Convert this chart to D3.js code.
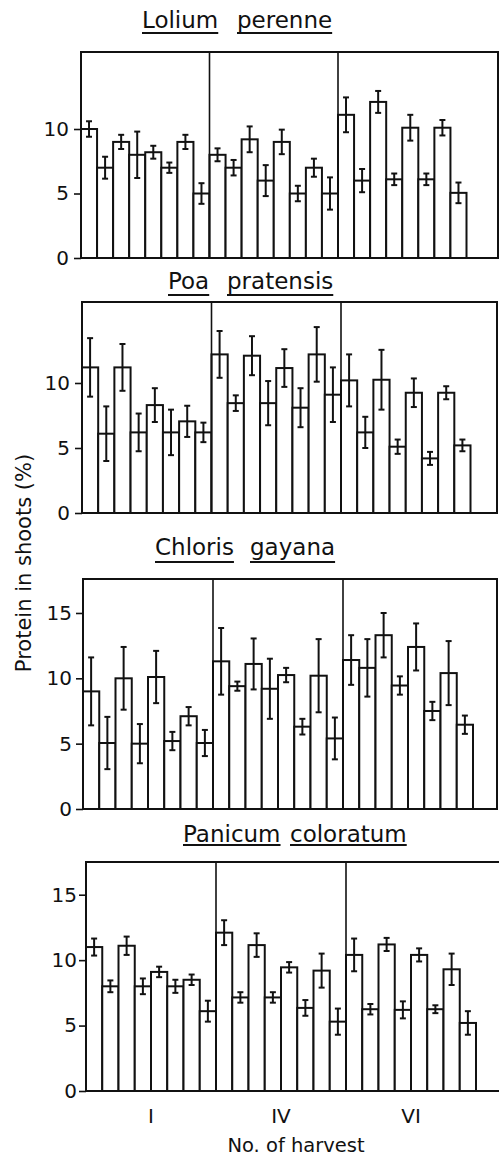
<!DOCTYPE html>
<html><head><meta charset="utf-8">
<script src="https://cdn.jsdelivr.net/npm/d3@7"></script>
<style>
html,body{margin:0;padding:0;background:#fff;}
svg{display:block;}
text{font-family:"DejaVu Sans",sans-serif;fill:#111;}
</style></head>
<body>
<svg id="chart" width="499" height="1157"></svg>
<script>
// ---- data ----
const harvests = ["I", "IV", "VI"];
const speciesNames = [["Lolium", "perenne"], ["Poa", "pratensis"], ["Chloris", "gayana"], ["Panicum", "coloratum"]];
const yTicksA = [0, 5, 10];
const yTicksB = [0, 5, 10, 15];
const yTitle = "Protein in shoots (%)";
const xTitle = "No. of harvest";

const loliumValues = [10.0, 7.0, 9.0, 8.0, 8.2, 7.0, 9.0, 5.0,  8.0, 7.0, 9.2, 6.0, 9.0, 5.0, 7.0, 5.0,  11.1, 6.0, 12.1, 6.1, 10.1, 6.1, 10.1, 5.05];
const loliumErrors = [0.6, 0.85, 0.55, 1.8, 0.5, 0.4, 0.55, 0.8,  0.5, 0.6, 1.0, 1.2, 0.95, 0.6, 0.7, 1.25,  1.35, 0.9, 0.85, 0.45, 1.0, 0.45, 0.6, 0.8];

const poaValues = [11.2, 6.1, 11.2, 6.2, 8.3, 6.2, 7.05, 6.2,  12.2, 8.45, 12.1, 8.45, 11.15, 8.1, 12.2, 9.1,  10.2, 6.2, 10.25, 5.1, 9.25, 4.2, 9.25, 5.2];
const poaErrors = [2.25, 2.1, 1.8, 1.45, 1.3, 1.75, 1.2, 0.75,  1.8, 0.6, 1.5, 1.7, 1.45, 1.5, 2.1, 2.1,  2.0, 1.2, 2.3, 0.55, 1.1, 0.5, 0.5, 0.45];

const chlorisValues = [9.0, 5.05, 10.0, 5.0, 10.1, 5.2, 7.1, 5.05,  11.3, 9.4, 11.1, 9.2, 10.25, 6.3, 10.2, 5.4,  11.4, 10.8, 13.3, 9.45, 12.4, 7.5, 10.4, 6.45];
const chlorisErrors = [2.6, 2.0, 2.4, 1.5, 2.0, 0.7, 0.7, 1.0,  2.55, 0.35, 1.95, 2.3, 0.55, 0.6, 2.8, 1.6,  1.9, 2.2, 1.7, 0.7, 1.8, 0.7, 2.45, 0.7];

const panicumValues = [11.0, 8.0, 11.1, 8.0, 9.1, 8.0, 8.5, 6.1,  12.1, 7.15, 11.15, 7.15, 9.45, 6.35, 9.2, 5.3,  10.4, 6.25, 11.2, 6.2, 10.4, 6.25, 9.3, 5.2];
const panicumErrors = [0.65, 0.45, 0.7, 0.6, 0.4, 0.5, 0.4, 0.8,  0.95, 0.4, 0.9, 0.4, 0.4, 0.6, 1.3, 1.0,  1.25, 0.4, 0.5, 0.65, 0.5, 0.3, 1.2, 0.9];

const seriesValues = [loliumValues, poaValues, chlorisValues, panicumValues];
const seriesErrors = [loliumErrors, poaErrors, chlorisErrors, panicumErrors];
const panelTicks = [yTicksA, yTicksA, yTicksB, yTicksB];

// ---- layout (pixel geometry, not data) ----
const layout = [
  {top: 52,  bottom: 258,  left: 81, div2: 338, right: 498, yMax: 15.97, titleY: 28,  ulY: 33,  wordX: [142, 237], tickDx: 12},
  {top: 302, bottom: 513,  left: 82, div2: 341, right: 497, yMax: 16.23, titleY: 289, ulY: 295, wordX: [168, 227], tickDx: 12},
  {top: 579, bottom: 809,  left: 83, div2: 343, right: 497, yMax: 17.6,  titleY: 555, ulY: 562, wordX: [155, 250], tickDx: 11},
  {top: 862, bottom: 1091, left: 86, div2: 346, right: 520, yMax: 17.5,  titleY: 842, ulY: 845, wordX: [183, 290], tickDx: 9}
];
const barsPerGroup = 8;
const ink = "#111";

const svg = d3.select("#chart");

layout.forEach((L, p) => {
  const g = svg.append("g");
  const x = d3.scaleLinear().domain([0, 2 * barsPerGroup]).range([L.left, L.div2]);
  const y = d3.scaleLinear().domain([0, L.yMax]).range([L.bottom, L.top]);
  const vals = seriesValues[p], errs = seriesErrors[p];

  // title words with underlines
  speciesNames[p].forEach((w, i) => {
    const t = g.append("text").attr("x", L.wordX[i]).attr("y", L.titleY)
      .attr("font-size", 23).text(w);
    const len = t.node().getComputedTextLength();
    g.append("line").attr("x1", L.wordX[i]).attr("x2", L.wordX[i] + len)
      .attr("y1", L.ulY).attr("y2", L.ulY).attr("stroke", ink).attr("stroke-width", 2);
  });

  // bars
  g.selectAll("rect.bar").data(vals).join("rect").attr("class", "bar")
    .attr("x", (d, i) => x(i)).attr("width", (d, i) => x(i + 1) - x(i))
    .attr("y", d => y(d)).attr("height", d => y(0) - y(d))
    .attr("fill", "#fff").attr("stroke", ink).attr("stroke-width", 2);

  // error bars
  const eb = g.selectAll("g.err").data(vals.map((v, i) => ({v, e: errs[i], i}))).join("g").attr("class", "err");
  eb.append("line").attr("x1", d => (x(d.i) + x(d.i + 1)) / 2).attr("x2", d => (x(d.i) + x(d.i + 1)) / 2)
    .attr("y1", d => y(d.v + d.e)).attr("y2", d => y(d.v - d.e)).attr("stroke", ink).attr("stroke-width", 2);
  [1, -1].forEach(s => {
    eb.append("line").attr("x1", d => (x(d.i) + x(d.i + 1)) / 2 - 3).attr("x2", d => (x(d.i) + x(d.i + 1)) / 2 + 3)
      .attr("y1", d => y(d.v + s * d.e)).attr("y2", d => y(d.v + s * d.e)).attr("stroke", ink).attr("stroke-width", 2);
  });

  // frame
  g.append("rect").attr("x", L.left).attr("y", L.top).attr("width", L.right - L.left).attr("height", L.bottom - L.top)
    .attr("fill", "none").attr("stroke", ink).attr("stroke-width", 2);
  [barsPerGroup, 2 * barsPerGroup].forEach(k => {
    g.append("line").attr("x1", x(k)).attr("x2", x(k)).attr("y1", L.top).attr("y2", L.bottom)
      .attr("stroke", ink).attr("stroke-width", 1.6);
  });

  // y axis
  const axis = d3.axisLeft(y).tickValues(panelTicks[p]).tickSize(7).tickPadding(L.tickDx - 7).tickFormat(d3.format("d"));
  const ag = g.append("g").attr("transform", `translate(${L.left},0)`).call(axis);
  ag.select(".domain").remove();
  ag.selectAll(".tick line").attr("stroke", ink).attr("stroke-width", 1.6);
  ag.selectAll(".tick text").attr("font-size", 20).attr("font-family", "DejaVu Sans").attr("fill", ink);

  // x labels on last panel
  if (p === layout.length - 1) {
    harvests.forEach((h, i) => {
      g.append("text").attr("x", x(i * barsPerGroup + barsPerGroup / 2)).attr("y", 1123)
        .attr("text-anchor", "middle").attr("font-size", 20).text(h);
    });
  }
});

svg.append("text").attr("transform", "translate(31,563) rotate(-90)")
  .attr("text-anchor", "middle").attr("font-size", 21).text(yTitle);
svg.append("text").attr("x", 296).attr("y", 1152).attr("text-anchor", "middle")
  .attr("font-size", 19.5).text(xTitle);
</script>
</body></html>
